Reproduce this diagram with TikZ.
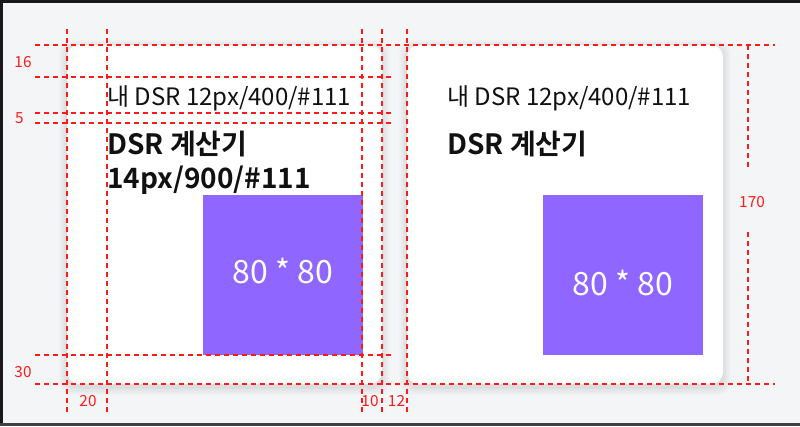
\documentclass[tikz,border=0pt]{standalone}
\usepackage{fontspec}
\setmainfont{Noto Sans CJK KR}[BoldFont={* Bold}]
\definecolor{bgc}{HTML}{F4F5F7}
\definecolor{purp}{HTML}{8F66FF}
\definecolor{ink}{HTML}{111111}
\definecolor{guide}{HTML}{FF1A1A}
\begin{document}
\begin{tikzpicture}[x=0.75pt,y=-0.75pt,
  guideline/.style={guide, line width=0.9pt, dash pattern=on 3.75pt off 3pt},
  glabel/.style={guide, font=\fontsize{11.5}{13}\selectfont, inner sep=0},
  regtext/.style={ink, anchor=base west, inner sep=0, font=\fontsize{18}{22}\selectfont},
  boldtext/.style={ink, anchor=base west, inner sep=0, font=\fontsize{21}{25}\selectfont\bfseries},
  sqbox/.style={fill=purp, draw=none, minimum width=120pt, minimum height=120pt, inner sep=0},
  sqtext/.style={white, anchor=base, inner sep=0, font=\fontsize{24}{28}\selectfont},
  cardfill/.style={fill=white, rounded corners=9pt}
]
\useasboundingbox (0,0) rectangle (800,426);
\fill[bgc] (0,0) rectangle (800,426);
% frame
\fill[black!90] (0,0) rectangle (800,2.5);
\fill[black!90] (0,0) rectangle (2.5,426);
\fill[black!75] (0,423) rectangle (800,426);
% shadows
\foreach \i in {1,...,8}{
  \fill[black, opacity=0.012, rounded corners=9pt] (67-\i,45-\i+3) rectangle (382+\i,384+\i+3);
  \fill[black, opacity=0.012, rounded corners=9pt] (407-\i,45-\i+3) rectangle (723+\i,384+\i+3);
}
% cards
\fill[cardfill] (67,45) rectangle (382,384);
\fill[cardfill] (407,45) rectangle (723,384);
% squares
\node[sqbox] (sqL) at (282.5,275) {};
\node[sqbox] (sqR) at (623,275) {};
\node[sqtext] (sqLt) at (283,283) {80 * 80};
\node[sqtext] (sqRt) at (623,295) {80 * 80};
% texts
\node[regtext] (t1L) at (107,105) {내 DSR 12px/400/\#111};
\node[boldtext] (t2L) at (107,154) {DSR 계산기};
\node[boldtext] (t3L) at (107,188) {14px/900/\#111};
\node[regtext] (t1R) at (447,105) {내 DSR 12px/400/\#111};
\node[boldtext] (t2R) at (447,154) {DSR 계산기};
% guides horizontal
\draw[guideline] (35,45) -- (775,45);
\draw[guideline] (35,384) -- (775,384);
\foreach \yy in {77,113,123,355}{
  \draw[guideline] (35,\yy) -- (391,\yy);
}
% guides vertical
\foreach \xx in {67,107,362,382,407}{
  \draw[guideline] (\xx,29) -- (\xx,415);
}
\draw[guideline] (748,45) -- (748,171);
\draw[guideline] (748,232) -- (748,384);
% labels
\node[glabel] (l16) at (23,62) {16};
\node[glabel] (l5) at (19.5,118) {5};
\node[glabel] (l30) at (23,372) {30};
\node[glabel] (l20) at (88,401) {20};
\node[glabel] (l10) at (370,401) {10};
\node[glabel] (l12) at (396.5,401) {12};
\node[glabel] (l170) at (752,202) {170};
\end{tikzpicture}
\end{document}
